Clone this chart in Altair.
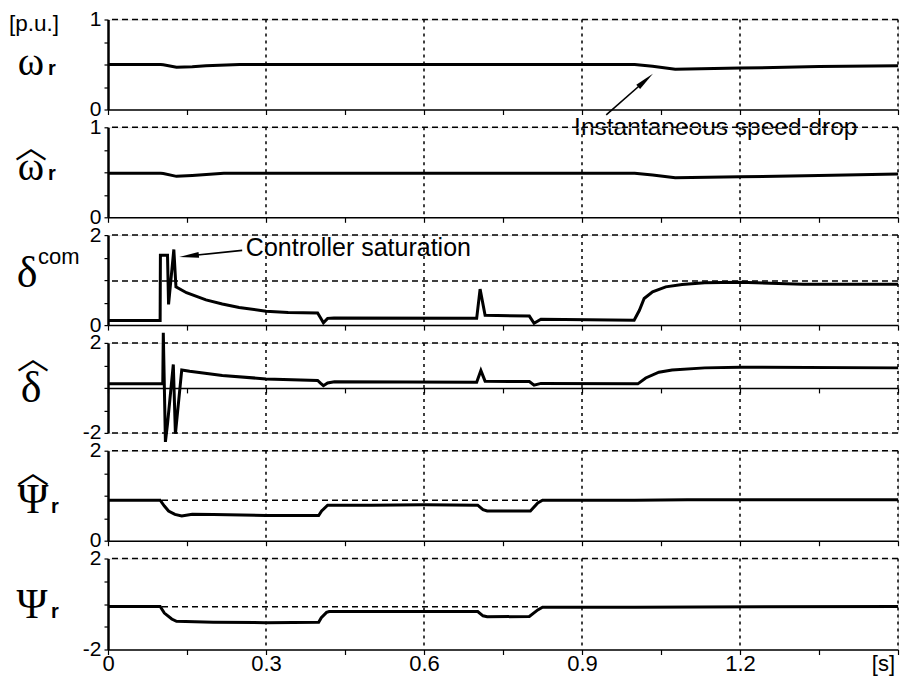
import altair as alt
import pandas as pd

# ---------------- data ----------------
T_WR = [0, 0.1, 0.105, 0.13, 0.16, 0.186, 0.25, 1.0, 1.034, 1.077, 1.2, 1.35, 1.5]
V_WR = [0.5, 0.5, 0.497, 0.47, 0.475, 0.487, 0.5, 0.5, 0.48, 0.447, 0.46, 0.477, 0.487]

T_WH = [0, 0.1, 0.105, 0.13, 0.16, 0.22, 1.0, 1.034, 1.077, 1.2, 1.35, 1.5]
V_WH = [0.49, 0.49, 0.487, 0.455, 0.465, 0.49, 0.49, 0.47, 0.44, 0.45, 0.465, 0.48]

T_DC = [0, 0.099, 0.0995, 0.113, 0.115, 0.125, 0.129, 0.149, 0.186, 0.217, 0.249, 0.3,
        0.342, 0.398, 0.404, 0.409, 0.417, 0.429, 0.7, 0.7065, 0.716, 0.8, 0.809, 0.822,
        0.999, 1.009, 1.018, 1.034, 1.059, 1.09, 1.133, 1.2, 1.32, 1.5]
V_DC = [0.1, 0.1, 1.55, 1.55, 0.46, 1.68, 0.85, 0.72, 0.56, 0.47, 0.39, 0.31,
        0.28, 0.27, 0.15, 0.05, 0.15, 0.16, 0.15, 0.8, 0.22, 0.2, 0.04, 0.13,
        0.11, 0.33, 0.59, 0.74, 0.85, 0.9, 0.94, 0.95, 0.91, 0.91]

T_DH = [0, 0.104, 0.105, 0.109, 0.113, 0.124, 0.128, 0.14, 0.155, 0.217, 0.3, 0.398,
        0.404, 0.409, 0.417, 0.43, 0.7, 0.708, 0.716, 0.8, 0.809, 0.822, 1.006, 1.021,
        1.046, 1.071, 1.133, 1.2, 1.5]
V_DH = [0.18, 0.18, 2.45, -2.4, -1.6, 1.04, -2.04, 0.8, 0.74, 0.55, 0.4, 0.33,
        0.2, 0.1, 0.22, 0.27, 0.25, 0.77, 0.3, 0.28, 0.12, 0.2, 0.18, 0.44,
        0.7, 0.8, 0.89, 0.92, 0.89]

T_PH = [0, 0.099, 0.107, 0.115, 0.127, 0.14, 0.16, 0.2, 0.3, 0.4, 0.4056, 0.417, 0.5,
        0.6, 0.702, 0.712, 0.72, 0.802, 0.816, 0.825, 1.0, 1.1, 1.5]
V_PH = [0.9, 0.9, 0.77, 0.66, 0.585, 0.55, 0.59, 0.58, 0.56, 0.56, 0.66, 0.79, 0.79,
        0.8, 0.79, 0.69, 0.66, 0.66, 0.84, 0.9, 0.9, 0.91, 0.91]

T_PS = [0, 0.099, 0.107, 0.121, 0.13, 0.2, 0.3, 0.4, 0.405, 0.415, 0.42, 0.7, 0.702,
        0.712, 0.72, 0.8, 0.816, 0.825, 1.0, 1.5]
V_PS = [-0.11, -0.11, -0.4, -0.66, -0.76, -0.8, -0.82, -0.8, -0.6, -0.37, -0.33, -0.33,
        -0.33, -0.52, -0.56, -0.55, -0.26, -0.14, -0.14, -0.11]

X_TICKS = [0, 0.15, 0.3, 0.45, 0.6, 0.75, 0.9, 1.05, 1.2, 1.35, 1.5]
X_GRID = [0.3, 0.6, 0.9, 1.2, 1.5]
X_UNIT = "[s]"

# annotations (data coordinates of the panel they belong to)
ANN1_TEXT = "Instantaneous speed drop"
ANN1_POS = (1.154, -0.2)
ANN1_SHAFT_T = [0.946, 1.016]
ANN1_SHAFT_V = [-0.06, 0.30]
ANN1_HEAD = (1.016, 0.30, 48)

ANN3_TEXT = "Controller saturation"
ANN3_POS = (0.2617, 1.72)
ANN3_SHAFT_T = [0.2548, 0.160]
ANN3_SHAFT_V = [1.66, 1.545]
ANN3_HEAD = (0.160, 1.545, 264)

SANS = "Liberation Sans"
SERIF = "Liberation Serif"
W = 790
HEIGHTS = [90, 90, 90, 90, 90, 91]
XLAB = 22


def label_expr(lo, hi):
    return f"datum.value == {hi} ? '{hi}' : (datum.value == {lo} ? '{lo}' : '')"


def panel(t, v, dom, yvals, hlines, h, xlabels=False, xoffset=0, extra=None):
    xaxis = dict(values=X_TICKS, grid=False, title=None, domainColor="black",
                 domainWidth=1.5, tickColor="black", tickSize=5, tickWidth=1.2,
                 offset=xoffset, labelFlush=False)
    if xlabels:
        xaxis.update(labels=True, labelFont=SANS, labelFontSize=XLAB, labelColor="black",
                     labelPadding=-1,
                     labelExpr="datum.value >= 1.49 ? '' : (abs((datum.value*100) % 30) < 1 ? format(datum.value, '.1~f') : '')")
    else:
        xaxis.update(labels=False)
    X = alt.X("t:Q", scale=alt.Scale(domain=[0, 1.5], nice=False, zero=False),
              axis=alt.Axis(**xaxis))
    Y = alt.Y("v:Q", scale=alt.Scale(domain=dom, nice=False, zero=False),
              axis=alt.Axis(values=yvals, grid=False, title=None, domainColor="black",
                            domainWidth=2.5, tickColor="black", tickSize=4, tickWidth=1.2,
                            labelFont=SANS, labelFontSize=21, labelColor="black",
                            labelPadding=3,
                            labelExpr=label_expr(dom[0], dom[1])))
    vgrid = alt.Chart(pd.DataFrame({"t": X_GRID})).mark_rule(
        color="black", strokeWidth=1.5, strokeDash=[3, 4]).encode(x=X)
    hgrid = alt.Chart(pd.DataFrame({"v": hlines})).mark_rule(
        color="black", strokeWidth=1.5, strokeDash=[6, 4]).encode(y=Y)
    line = alt.Chart(pd.DataFrame({"t": t, "v": v})).mark_line(
        color="black", strokeWidth=3).encode(x=X, y=Y)
    layers = [vgrid, hgrid, line]
    if extra:
        layers += extra(X, Y)
    return alt.layer(*layers).properties(width=W, height=h)


def txt(s, x, y, size, font=SANS, align="center", baseline="alphabetic", weight="normal"):
    return alt.Chart(pd.DataFrame({"a": [0]})).mark_text(
        text=s, font=font, fontSize=size, align=align, baseline=baseline,
        fontWeight=weight, color="black").encode(x=alt.value(x), y=alt.value(y))


def arrow(X, Y, shaft_t, shaft_v, head):
    shaft = alt.Chart(pd.DataFrame({"t": shaft_t, "v": shaft_v})).mark_line(
        color="black", strokeWidth=1.6).encode(x=X, y=Y)
    hd = alt.Chart(pd.DataFrame({"t": [head[0]], "v": [head[1]]})).mark_point(
        shape="wedge", filled=True, color="black", opacity=1, size=520,
        angle=head[2]).encode(x=X, y=Y)
    return [shaft, hd]


def extra1(X, Y):
    a = alt.Chart(pd.DataFrame({"t": [ANN1_POS[0]], "v": [ANN1_POS[1]]})).mark_text(
        text=ANN1_TEXT, font=SANS, fontSize=24.5, baseline="middle", color="black").encode(x=X, y=Y)
    return [a] + arrow(X, Y, ANN1_SHAFT_T, ANN1_SHAFT_V, ANN1_HEAD) + [
        txt("[p.u.]", -99, 4.3, 22.5, align="left", baseline="middle"),
        txt("ω", -77, 55, 40, font=SERIF),
        txt("r", -60, 55, 20, weight="bold", align="left"),
    ]


def extra2(X, Y):
    return [
        txt("︿", -77, 20.8, 32, font="Noto Sans CJK SC", baseline="middle"),
        txt("ω", -77, 52.5, 40, font=SERIF),
        txt("r", -60, 52.5, 20, weight="bold", align="left"),
    ]


def extra3(X, Y):
    a = alt.Chart(pd.DataFrame({"t": [ANN3_POS[0]], "v": [ANN3_POS[1]]})).mark_text(
        text=ANN3_TEXT, font=SANS, fontSize=25, align="left", baseline="middle",
        color="black").encode(x=X, y=Y)
    return [a] + arrow(X, Y, ANN3_SHAFT_T, ANN3_SHAFT_V, ANN3_HEAD) + [
        txt("δ", -81, 51.5, 44, font=SERIF),
        txt("com", -70, 28.5, 22, align="left"),
    ]


def extra4(X, Y):
    return [
        txt("︿", -75, 16, 32, font="Noto Sans CJK SC", baseline="middle"),
        txt("δ", -77, 58.8, 44, font=SERIF),
    ]


def extra5(X, Y):
    return [
        txt("︿", -75, 21.8, 32, font="Noto Sans CJK SC", baseline="middle"),
        txt("Ψ", -75, 62.3, 42, font=SERIF),
        txt("r", -57, 62.3, 20, weight="bold", align="left"),
    ]


def extra6(X, Y):
    return [
        txt("Ψ", -76, 59.5, 42, font=SERIF),
        txt("r", -57, 59.5, 20, weight="bold", align="left"),
        txt(X_UNIT, W - 3, HEIGHTS[5] + 4, XLAB, align="right", baseline="top"),
    ]


p1 = panel(T_WR, V_WR, [0, 1], [0, 0.25, 0.5, 0.75, 1], [1], HEIGHTS[0], extra=extra1)
p2 = panel(T_WH, V_WH, [0, 1], [0, 0.25, 0.5, 0.75, 1], [1], HEIGHTS[1], extra=extra2)
p3 = panel(T_DC, V_DC, [0, 2], [0, 0.5, 1, 1.5, 2], [2, 0.98], HEIGHTS[2], extra=extra3)
p4 = panel(T_DH, V_DH, [-2, 2], [-2, -1, 0, 1, 2], [2, -2], HEIGHTS[3],
           xoffset=-HEIGHTS[3] / 2, extra=extra4)
p5 = panel(T_PH, V_PH, [0, 2], [0, 0.5, 1, 1.5, 2], [2, 0.9], HEIGHTS[4], extra=extra5)
p6 = panel(T_PS, V_PS, [-2, 2], [-2, -1, 0, 1, 2], [2, -0.12], HEIGHTS[5], xlabels=True, extra=extra6)

chart = alt.vconcat(p1, p2, p3, p4, p5, p6, spacing=17.8, bounds="flush").properties(
    padding={"left": 0, "top": -0.5, "right": 0, "bottom": 0}
).configure_view(stroke=None).configure(background="white")

chart.save("out.html", embed_options={"renderer": "svg", "actions": False})
